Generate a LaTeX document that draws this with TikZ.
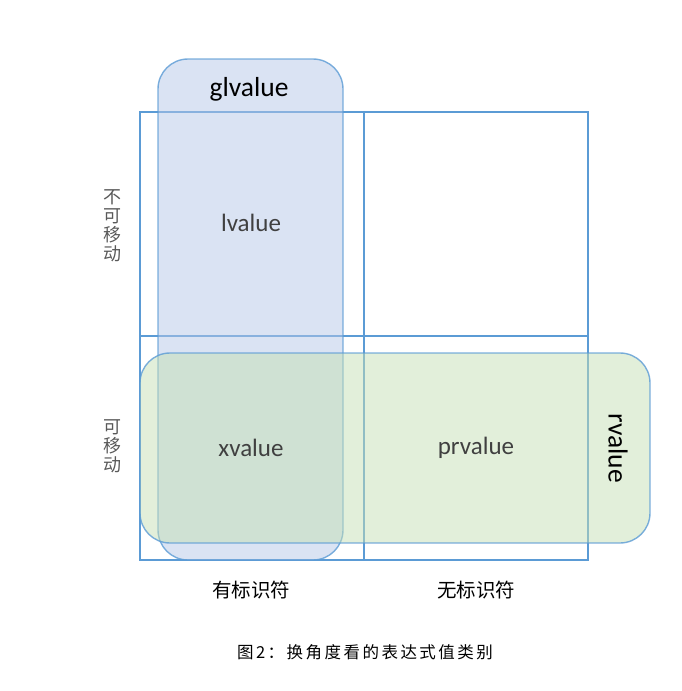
\documentclass[tikz,border=0pt]{standalone}
\usepackage{fontspec}
\setmainfont{Carlito}
\newfontfamily\cjk{Noto Sans CJK SC}
\definecolor{boxline}{HTML}{5B9BD5}
\definecolor{glfill}{RGB}{181,199,231}
\definecolor{rfill}{RGB}{197,223,181}
\definecolor{cellgray}{HTML}{404040}
\tikzset{
  cell/.style={draw=boxline, line width=1.3pt},
  catbox/.style={draw=boxline, line width=1.4pt, rounded corners=30pt, fill opacity=0.5, draw opacity=0.8},
  cellname/.style={text=cellgray, font=\fontsize{25}{30}\selectfont},
  catname/.style={text=black, font=\fontsize{27.5}{32}\selectfont},
  sidelabel/.style={text=black!65, align=center, inner sep=0pt, font=\cjk\fontsize{18}{19}\selectfont},
  axislabel/.style={text=black, font=\cjk\fontsize{19.5}{23}\selectfont},
}

\begin{document}
\begin{tikzpicture}[x=1pt,y=-1pt]
  \useasboundingbox (0,0) rectangle (682,691);

  % Grid of the four cells
  \draw[cell] (140,112) rectangle (364,336);
  \draw[cell] (364,112) rectangle (588,336);
  \draw[cell] (140,336) rectangle (364,560);
  \draw[cell] (364,336) rectangle (588,560);

  % glvalue column (blue) and rvalue row (green)
  \draw[catbox, fill=glfill] (158,59) rectangle (343,560);
  \draw[catbox, fill=rfill] (140,353) rectangle (650,543);

  % Group labels
  \node[catname] (glvalue) at (249,89) {glvalue};
  \node[catname, rotate=-90] (rvalue) at (618,448) {rvalue};

  % Cell labels
  \node[cellname] (lvalue) at (251,223) {lvalue};
  \node[cellname] (xvalue) at (251,448) {xvalue};
  \node[cellname] (prvalue) at (476,448) {prvalue};

  % Row labels (vertical text)
  \node[sidelabel] (immovable) at (112,226) {不\\可\\移\\动};
  \node[sidelabel] (movable) at (112,446) {可\\移\\动};

  % Column labels
  \node[axislabel] (named) at (251,590) {有标识符};
  \node[axislabel] (unnamed) at (476,590) {无标识符};

  % Caption
  \node[font=\cjk\fontsize{16.5}{20}\selectfont\addfontfeature{LetterSpace=15}] (caption) at (365,652) {图2：换角度看的表达式值类别};
\end{tikzpicture}
\end{document}
